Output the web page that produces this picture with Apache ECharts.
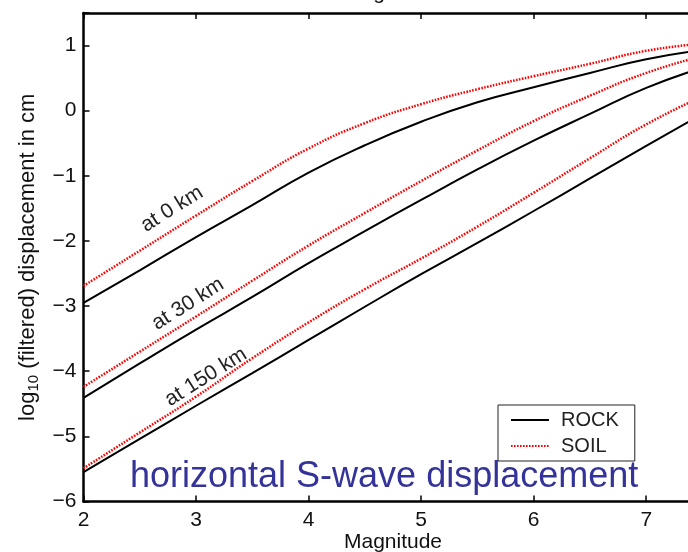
<!DOCTYPE html>
<html>
<head>
<meta charset="utf-8">
<script src="https://cdn.jsdelivr.net/npm/echarts@6/dist/echarts.min.js"></script>
<style>
  html, body { margin: 0; padding: 0; background: #fff; }
  #main { width: 688px; height: 552px; }
</style>
</head>
<body>
<div id="main"></div>
<script>
var magnitudes = [2, 2.5, 3, 3.5, 4, 4.5, 5, 5.5, 6, 6.5, 7, 7.5];

// log10 displacement (cm)
var rock0   = [-2.95, -2.45, -1.94, -1.45, -0.95, -0.53, -0.17, 0.13, 0.36, 0.58, 0.79, 0.93];
var soil0   = [-2.69, -2.15, -1.61, -1.08, -0.58, -0.19, 0.10, 0.33, 0.53, 0.72, 0.92, 1.03];
var rock30  = [-4.41, -3.88, -3.36, -2.86, -2.34, -1.85, -1.37, -0.90, -0.46, -0.05, 0.35, 0.66];
var soil30  = [-4.24, -3.70, -3.16, -2.61, -2.07, -1.57, -1.08, -0.61, -0.16, 0.23, 0.58, 0.84];
var rock150 = [-5.55, -5.04, -4.53, -4.03, -3.52, -3.01, -2.51, -2.03, -1.54, -1.04, -0.54, -0.05];
var soil150 = [-5.49, -4.94, -4.39, -3.80, -3.25, -2.74, -2.27, -1.78, -1.26, -0.73, -0.21, 0.22];

var distLabels = ['at 0 km', 'at 30 km', 'at 150 km'];

var FONT = '"Liberation Sans", Arial, Helvetica, sans-serif';

function pairs(arr) {
  return magnitudes.map(function (m, i) { return [m, arr[i]]; });
}

function rockSeries(arr) {
  return {
    name: 'ROCK', type: 'line', data: pairs(arr), smooth: 0.5,
    symbol: 'none', itemStyle: { color: '#000' },
    lineStyle: { color: '#000', width: 2 }, z: 3
  };
}
function soilSeries(arr) {
  return {
    name: 'SOIL', type: 'line', data: pairs(arr), smooth: 0.5,
    symbol: 'none', itemStyle: { color: '#ff0000' },
    lineStyle: { color: '#ff0000', width: 2.5, type: [1.6, 1.4] }, z: 4
  };
}

function minus(v) {
  if (!Number.isInteger(v)) return '';
  return String(v).replace('-', '\u2212');
}

var chart = echarts.init(document.getElementById('main'));

var labelStyle = function (txt) {
  return { text: txt, font: '21px ' + FONT, fill: '#222', align: 'center', verticalAlign: 'middle' };
};

chart.setOption({
  animation: false,
  backgroundColor: '#fff',
  grid: { left: 83.5, top: 13, width: 619, height: 488.5, containLabel: false, outerBoundsMode: 'none' },
  xAxis: [{
    type: 'value', min: 2, max: 7.5, interval: 1,
    name: 'Magnitude', nameLocation: 'middle', nameGap: 30, nameMoveOverlap: false,
    nameTextStyle: { fontFamily: FONT, fontSize: 21, color: '#111' },
    axisLine: { onZero: false, lineStyle: { color: '#000', width: 2.5 } },
    axisTick: { inside: true, length: 6, lineStyle: { color: '#000', width: 1.5 } },
    axisLabel: { margin: 8, fontFamily: FONT, fontSize: 21, color: '#111', formatter: minus },
    splitLine: { show: false }
  }, {
    type: 'value', min: 2, max: 7.5, interval: 1, position: 'top',
    axisLine: { onZero: false, lineStyle: { color: '#000', width: 2.5 } },
    axisTick: { inside: true, length: 6, lineStyle: { color: '#000', width: 1.5 } },
    axisLabel: { show: false },
    splitLine: { show: false }
  }],
  yAxis: {
    type: 'value', min: -6, max: 1.5, interval: 1,
    name: '{a|log}{b|10}{a| (filtered) displacement in cm}',
    nameLocation: 'middle', nameGap: 42, nameRotate: 90, nameMoveOverlap: false,
    nameTextStyle: {
      color: '#111',
      rich: {
        a: { fontFamily: FONT, fontSize: 22, color: '#111', lineHeight: 28, verticalAlign: 'middle' },
        b: { fontFamily: FONT, fontSize: 15, color: '#111', lineHeight: 28, verticalAlign: 'bottom' }
      }
    },
    axisLine: { onZero: false, lineStyle: { color: '#000', width: 2.5 } },
    axisTick: { inside: true, length: 6, lineStyle: { color: '#000', width: 1.5 } },
    axisLabel: { margin: 7, fontFamily: FONT, fontSize: 21, color: '#111', formatter: minus },
    splitLine: { show: false }
  },
  legend: {
    data: ['ROCK', 'SOIL'],
    orient: 'vertical', left: 498, top: 405,
    itemWidth: 38, itemHeight: 14, itemGap: 6,
    padding: [5, 16, 5, 12],
    backgroundColor: '#fff', borderColor: '#222', borderWidth: 1,
    itemStyle: { opacity: 0 },
    textStyle: { fontFamily: FONT, fontSize: 20, color: '#222', padding: [0, 0, 0, 7] }
  },
  graphic: [
    { type: 'text', x: 172, y: 209, rotation: 0.56, style: labelStyle(distLabels[0]) },
    { type: 'text', x: 188, y: 304, rotation: 0.56, style: labelStyle(distLabels[1]) },
    { type: 'text', x: 206, y: 377, rotation: 0.56, style: labelStyle(distLabels[2]) },
    { type: 'text', x: 130, y: 477,
      style: { text: 'horizontal S-wave displacement', font: '36px ' + FONT, fill: '#333399', align: 'left', verticalAlign: 'middle' } },
    { type: 'text', x: 393, y: -7,
      style: { text: 'Magnitude', font: '21px ' + FONT, fill: '#111', align: 'center', verticalAlign: 'middle' } }
  ],
  series: [
    rockSeries(rock0), soilSeries(soil0),
    rockSeries(rock30), soilSeries(soil30),
    rockSeries(rock150), soilSeries(soil150)
  ]
});
</script>
</body>
</html>
